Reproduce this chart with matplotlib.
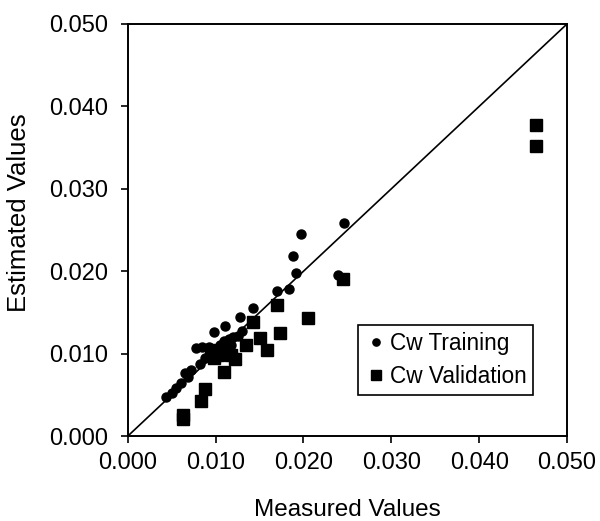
import matplotlib
matplotlib.use("Agg")
import matplotlib.pyplot as plt

plt.rcParams['font.family'] = ['Liberation Sans', 'DejaVu Sans']

train_x = [0.0197, 0.0188, 0.0191, 0.0184, 0.0170, 0.0143, 0.0128, 0.0111, 0.0098,
           0.0078, 0.0065, 0.0055, 0.0044, 0.0246, 0.0239,
           0.0085, 0.0092, 0.0095, 0.0100, 0.0105, 0.0110, 0.0115, 0.0120, 0.0125,
           0.0130, 0.0088, 0.0082, 0.0072, 0.0068, 0.0060, 0.0050, 0.0102, 0.0118, 0.0108]
train_y = [0.0245, 0.0219, 0.0198, 0.0178, 0.0176, 0.0155, 0.0145, 0.0134, 0.0126,
           0.0107, 0.0077, 0.0058, 0.0048, 0.0258, 0.0195,
           0.0108, 0.0108, 0.0104, 0.0100, 0.0110, 0.0115, 0.0118, 0.0120, 0.0122,
           0.0128, 0.0095, 0.0088, 0.0080, 0.0072, 0.0065, 0.0052, 0.0095, 0.0110, 0.0102]

valid_x = [0.0465, 0.0465, 0.0245, 0.0205, 0.0170, 0.0173, 0.0143, 0.0151, 0.0159,
           0.0134, 0.0122, 0.0110, 0.0088, 0.0083, 0.0063, 0.0063,
           0.0098, 0.0103, 0.0108, 0.0112, 0.0117, 0.0095]
valid_y = [0.0378, 0.0352, 0.0190, 0.0143, 0.0159, 0.0125, 0.0139, 0.0119, 0.0105,
           0.0111, 0.0093, 0.0078, 0.0057, 0.0042, 0.0025, 0.0021,
           0.0095, 0.0098, 0.0100, 0.0105, 0.0098, 0.0105]

x_ticks = [0.000, 0.010, 0.020, 0.030, 0.040, 0.050]
y_ticks = [0.000, 0.010, 0.020, 0.030, 0.040, 0.050]

fig = plt.figure(figsize=(6.0, 5.21), dpi=100)
ax = fig.add_axes([0.213, 0.163, 0.732, 0.791])

ax.plot([0, 0.05], [0, 0.05], color='black', lw=1.2, zorder=1)
ax.plot(train_x, train_y, 'o', color='black', ms=6.5, ls='none', label='Cw Training', zorder=3)
ax.plot(valid_x, valid_y, 's', color='black', ms=9, ls='none', label='Cw Validation', zorder=2)

ax.set_xlim(0, 0.05)
ax.set_ylim(0, 0.05)
ax.set_xticks(x_ticks)
ax.set_yticks(y_ticks)
ax.set_xticklabels([f"{v:.3f}" for v in x_ticks])
ax.set_yticklabels([f"{v:.3f}" for v in y_ticks])
ax.tick_params(direction='out', length=5, width=1.2, labelsize=17,
               top=False, right=False)
ax.tick_params(axis='x', pad=6.5)
ax.tick_params(axis='y', pad=9.5)
for s in ax.spines.values():
    s.set_linewidth(1.4)

ax.set_xlabel('Measured Values', fontsize=17.5)
ax.set_ylabel('Estimated Values', fontsize=18.5)
ax.xaxis.set_label_coords(0.5, -0.152)
ax.yaxis.set_label_coords(-0.22, 0.541)

leg = ax.legend(loc='upper left', bbox_to_anchor=(358/600, 1 - 325/521),
                bbox_transform=fig.transFigure, borderaxespad=0, fontsize=16.3,
                frameon=True, fancybox=False, edgecolor='black', framealpha=1,
                handletextpad=0.1, handlelength=1.0, borderpad=0.3, labelspacing=0.45,
                markerscale=0.8)
leg.get_frame().set_linewidth(1.2)

fig.savefig('out.png', dpi=100)
